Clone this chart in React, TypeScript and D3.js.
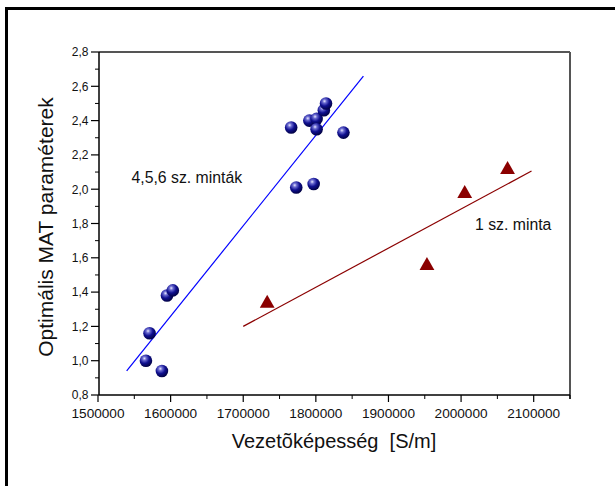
import React from "react";
import * as d3 from "d3";

const blueX = [1566000, 1571000, 1588000, 1595000, 1603000, 1766000, 1791000, 1801000, 1801000, 1811000, 1814000, 1838000, 1773000, 1797000];
const blueY = [1.0, 1.16, 0.94, 1.38, 1.41, 2.36, 2.40, 2.41, 2.35, 2.46, 2.50, 2.33, 2.01, 2.03];
const redX = [1733000, 1953000, 2005000, 2064000];
const redY = [1.34, 1.56, 1.98, 2.12];
const blueFitX = [1539500, 1865500];
const blueFitY = [0.94, 2.66];
const redFitX = [1700000, 2097000];
const redFitY = [1.2, 2.106];
const xTicks = [1500000, 1600000, 1700000, 1800000, 1900000, 2000000, 2100000];
const yTicks = [0.8, 1.0, 1.2, 1.4, 1.6, 1.8, 2.0, 2.2, 2.4, 2.6, 2.8];

const W = 615, H = 486;
const L = 99, R = 570, T = 52, B = 395;

export default function App() {
  const x = d3.scaleLinear().domain([1500000, 2150000]).range([L - 1, R]);
  const y = d3.scaleLinear().domain([0.8, 2.8]).range([B, T]);
  const line = d3.line<[number, number]>().x(d => x(d[0])).y(d => y(d[1]));
  const xMinor = d3.range(1550000, 2150001, 100000);
  const yMinor = d3.range(0.9, 2.8, 0.2);
  const font = "Liberation Sans, Arial, sans-serif";
  const tri = d3.symbol().type(d3.symbolTriangle).size(95)();
  return (
    <svg width={W} height={H} style={{ position: "absolute", left: 0, top: 0 }}>
      <defs>
        <radialGradient id="ball" cx="0.38" cy="0.32" r="0.7">
          <stop offset="0" stopColor="#e8e8ff" />
          <stop offset="0.22" stopColor="#6a6ad0" />
          <stop offset="0.55" stopColor="#101090" />
          <stop offset="1" stopColor="#000040" />
        </radialGradient>
      </defs>
      <rect x={0} y={0} width={W} height={H} fill="#fff" />
      <rect x={6.5} y={8.5} width={W + 20} height={H + 20} fill="none" stroke="#000" strokeWidth={3} />
      {/* top & right frame */}
      <line x1={L} x2={R} y1={T} y2={T} stroke="#555" strokeWidth={2} />
      <line x1={R} x2={R} y1={T} y2={B + 4} stroke="#555" strokeWidth={2} />
      {/* axes */}
      <line x1={L} x2={L} y1={T} y2={B} stroke="#000" strokeWidth={1.5} />
      <line x1={L} x2={R} y1={B} y2={B} stroke="#000" strokeWidth={1.5} />
      {yTicks.map(t => (
        <g key={"y" + t}>
          <line x1={L - 8} x2={L} y1={y(t)} y2={y(t)} stroke="#000" strokeWidth={1.2} />
          <text x={88.5} y={y(t) + 4.3} textAnchor="end" fontFamily={font} fontSize={12} fill="#111">
            {t.toFixed(1).replace(".", ",")}
          </text>
        </g>
      ))}
      {yMinor.map(t => (
        <line key={"ym" + t} x1={L - 4} x2={L} y1={y(t)} y2={y(t)} stroke="#000" strokeWidth={1} />
      ))}
      {xTicks.map(t => (
        <g key={"x" + t}>
          <line x1={x(t)} x2={x(t)} y1={B} y2={B + 7} stroke="#000" strokeWidth={1.2} />
          <text x={x(t) - 26.5} y={417.5} textLength={53} lengthAdjust="spacingAndGlyphs" fontFamily={font} fontSize={12} fill="#111">
            {t}
          </text>
        </g>
      ))}
      {xMinor.map(t => (
        <line key={"xm" + t} x1={x(t)} x2={x(t)} y1={B} y2={B + 4} stroke="#000" strokeWidth={1} />
      ))}
      {/* fit lines */}
      <path d={line(blueFitX.map((v, i) => [v, blueFitY[i]]) as any) || ""} stroke="#0000ff" strokeWidth={1.2} fill="none" />
      <path d={line(redFitX.map((v, i) => [v, redFitY[i]]) as any) || ""} stroke="#8b0000" strokeWidth={1.2} fill="none" />
      {/* points */}
      {blueX.map((v, i) => (
        <circle key={"b" + i} cx={x(v)} cy={y(blueY[i])} r={6.3} fill="url(#ball)" />
      ))}
      {redX.map((v, i) => (
        <path key={"r" + i} d={tri || ""} transform={`translate(${x(v)},${y(redY[i]) + 1})`} fill="#8b0000" />
      ))}
      {/* labels */}
      <text x={131.5} y={182.5} fontFamily={font} fontSize={15.8} fill="#111">4,5,6 sz. minták</text>
      <text x={475} y={230} fontFamily={font} fontSize={15.8} fill="#111">1 sz. minta</text>
      <text x={334} y={448} textAnchor="middle" fontFamily={font} fontSize={20} fill="#111">
        {"Vezetõképesség\u00a0\u00a0[S/m]"}
      </text>
      <text transform={`translate(53,227) rotate(-90)`} textAnchor="middle" fontFamily={font} fontSize={21} fill="#111">
        Optimális MAT paraméterek
      </text>
    </svg>
  );
}
